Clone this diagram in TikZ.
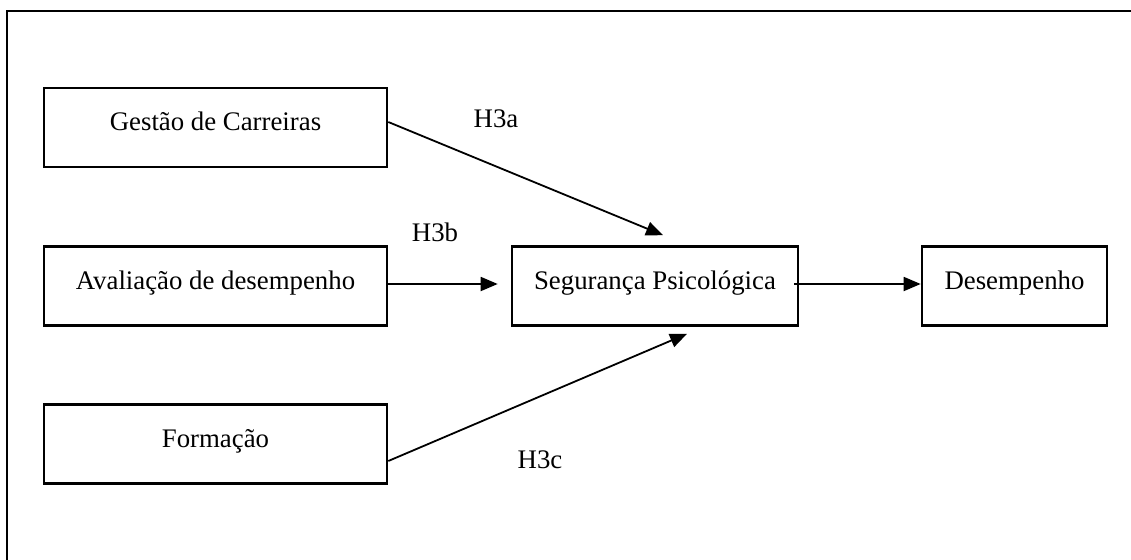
\documentclass[tikz,border=0pt]{standalone}
\usepackage{fontspec}
\setmainfont{Liberation Serif}
\usetikzlibrary{arrows.meta}

\tikzset{
  varbox/.style={draw, line width=2.6pt, rectangle, inner sep=0pt,
    minimum height=79pt, text height=12pt, text depth=6pt,
    font=\fontsize{26.8}{30}\selectfont},
  hyplabel/.style={inner sep=0pt, font=\fontsize{26.8}{30}\selectfont},
  link/.style={line width=1.8pt, -{Triangle[length=17pt, width=14pt]}},
  frameline/.style={line width=2.4pt}
}

\begin{document}
\begin{tikzpicture}[x=1pt, y=-1pt]
  \useasboundingbox (0,0) rectangle (1131,559);

  % outer frame (only top and left edges fall inside the page)
  \draw[frameline] (7,570) -- (7,11) -- (1140,11);

  % constructs
  \node[varbox, minimum width=343pt] (g) at (215.5,127.5) {Gestão de Carreiras};
  \node[varbox, minimum width=343pt] (a) at (215.5,286) {Avaliação de desempenho};
  \node[varbox, minimum width=343pt] (f) at (215.5,444) {Formação};
  \node[varbox, minimum width=286pt] (s) at (655,286) {Segurança Psicológica};
  \node[varbox, minimum width=185pt] (d) at (1014.5,286) {Desempenho};

  % hypothesis labels
  \node[hyplabel] (h3a) at (496,119) {H3a};
  \node[hyplabel] (h3b) at (435,232) {H3b};
  \node[hyplabel] (h3c) at (540,460) {H3c};

  % paths
  \draw[link] ([yshift=5.5pt]g.east) -- ([xshift=8pt, yshift=10pt]s.north);
  \draw[link] ([yshift=2pt]a.east) -- ([xshift=-13pt, yshift=2pt]s.west);
  \draw[link] ([yshift=-17pt]f.east) -- ([xshift=32pt, yshift=-7pt]s.south);
  \draw[link] ([xshift=-5pt, yshift=2pt]s.east) -- ([yshift=2pt]d.west);
\end{tikzpicture}
\end{document}
